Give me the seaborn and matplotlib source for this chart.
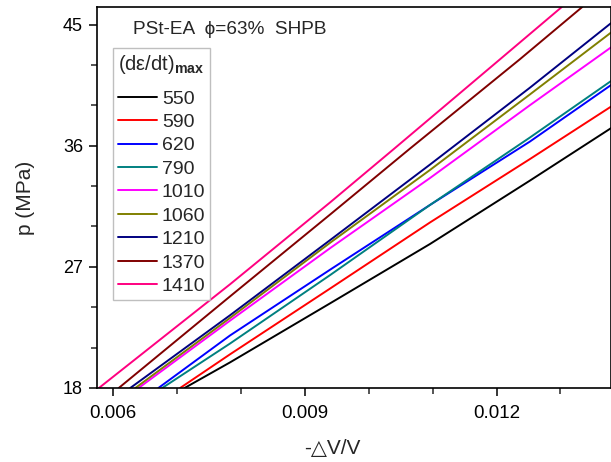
import numpy as np
import pandas as pd
import matplotlib
matplotlib.use("Agg")
import matplotlib.pyplot as plt
from matplotlib.ticker import MultipleLocator, FormatStrFormatter
import seaborn as sns

sns.set_theme(style="ticks")
plt.rcParams['font.family'] = ['Liberation Sans', 'DejaVu Sans']
plt.rcParams['mathtext.fontset'] = 'custom'
plt.rcParams['mathtext.rm'] = 'Liberation Sans'
plt.rcParams['mathtext.bf'] = 'Liberation Sans:bold'

# strain rates (legend labels) and colours
rates = ['550', '590', '620', '790', '1010', '1060', '1210', '1370', '1410']
colors = ['#000000', '#FF0000', '#0000FF', '#008080', '#FF00FF',
          '#808000', '#000080', '#800000', '#FF0080']

# -dV/V vs p (MPa)
strain_550 = [0.00712, 0.00783, 0.0094, 0.01096, 0.01252, 0.01379]
p_550 = [18.0, 19.9, 24.3, 28.7, 33.4, 37.3]
strain_590 = [0.00705, 0.00783, 0.0094, 0.01096, 0.01252, 0.01379]
p_590 = [18.0, 20.5, 25.4, 30.3, 35.0, 38.9]
strain_620 = [0.00671, 0.00783, 0.0094, 0.01096, 0.01252, 0.01379]
p_620 = [18.0, 21.9, 26.8, 31.6, 36.3, 40.5]
strain_790 = [0.00677, 0.00783, 0.0094, 0.01096, 0.01252, 0.01379]
p_790 = [18.0, 21.3, 26.4, 31.6, 36.6, 40.8]
strain_1010 = [0.0064, 0.00783, 0.0094, 0.01096, 0.01252, 0.01379]
p_1010 = [18.0, 23.0, 28.4, 33.6, 39.0, 43.3]
strain_1060 = [0.00635, 0.00783, 0.0094, 0.01096, 0.01252, 0.01379]
p_1060 = [18.0, 23.2, 28.8, 34.2, 39.8, 44.4]
strain_1210 = [0.00627, 0.00783, 0.0094, 0.01096, 0.01252, 0.01379]
p_1210 = [18.0, 23.4, 29.0, 34.6, 40.3, 45.1]
strain_1370 = [0.00609, 0.00783, 0.0094, 0.01065, 0.01236, 0.01334]
p_1370 = [18.0, 24.8, 30.9, 35.8, 42.4, 46.3]
strain_1410 = [0.00578, 0.00783, 0.0094, 0.01038, 0.01205, 0.01302]
p_1410 = [18.0, 25.7, 31.8, 35.7, 42.4, 46.3]

series = {
    '550': (strain_550, p_550), '590': (strain_590, p_590),
    '620': (strain_620, p_620), '790': (strain_790, p_790),
    '1010': (strain_1010, p_1010), '1060': (strain_1060, p_1060),
    '1210': (strain_1210, p_1210), '1370': (strain_1370, p_1370),
    '1410': (strain_1410, p_1410),
}
frames = []
for r in rates:
    s, p = series[r]
    frames.append(pd.DataFrame({'strain': s, 'p': p, 'rate': r}))
df = pd.concat(frames, ignore_index=True)

fig = plt.figure(figsize=(6.11, 4.62), dpi=100)
ax = fig.add_axes([97 / 611, 1 - 388 / 462, 514 / 611, 381 / 462])

sns.lineplot(data=df, x='strain', y='p', hue='rate', hue_order=rates,
             palette=dict(zip(rates, colors)), sort=False, estimator=None,
             lw=1.4, ax=ax)

ax.set_xlim(0.00575, 0.01379)
ax.set_ylim(18, 46.3)
ax.xaxis.set_major_locator(MultipleLocator(0.003))
ax.xaxis.set_minor_locator(MultipleLocator(0.001))
ax.xaxis.set_major_formatter(FormatStrFormatter('%.3f'))
ax.yaxis.set_major_locator(MultipleLocator(9))
ax.yaxis.set_minor_locator(MultipleLocator(3))
ax.tick_params(which='major', direction='out', length=6, width=1.1,
               colors='black')
ax.tick_params(which='minor', direction='out', length=4, width=1.1)
ax.tick_params(axis='x', which='major', labelsize=13.5, pad=6)
ax.tick_params(axis='y', which='major', labelsize=13, pad=4)
for sp in ax.spines.values():
    sp.set_color('black')
    sp.set_linewidth(1.2)

ax.set_xlabel('-△V/V', fontsize=15)
ax.set_ylabel('p (MPa)', fontsize=15)
ax.xaxis.set_label_coords(0.457, -0.135)
ax.yaxis.set_label_coords(-0.12, 0.5)

ax.text(0.07, 0.94, 'PSt-EA  ϕ=63%  SHPB', transform=ax.transAxes,
        fontsize=13.7, va='center', ha='left')

leg = ax.legend(title='(dε/dt)$_{\\mathbf{max}}$', loc='upper left',
                bbox_to_anchor=(0.031, 0.892), frameon=True, fancybox=False,
                edgecolor='#b0b0b0', fontsize=14, title_fontsize=14.5,
                handlelength=2.0, handletextpad=0.26, labelspacing=0.3,
                borderpad=0.25, borderaxespad=0, alignment='left')
leg.get_frame().set_linewidth(1.0)
# a bit more room between the legend title and the entries
leg._legend_box.sep = 10

fig.savefig('out.png', dpi=100)
